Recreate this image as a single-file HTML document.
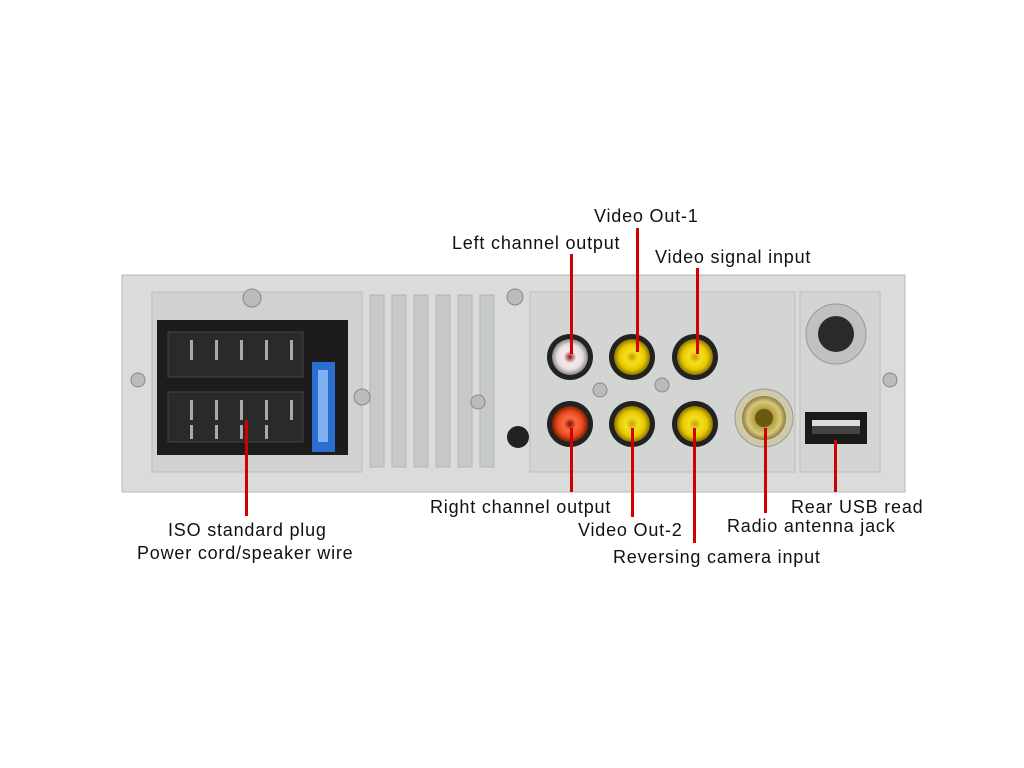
<!DOCTYPE html>
<html><head><meta charset="utf-8"><style>
body{margin:0;width:1024px;height:768px;background:#fff;position:relative;overflow:hidden;font-family:"Liberation Sans","DejaVu Sans",sans-serif}
.t{position:absolute;font-size:18px;letter-spacing:0.8px;color:#111;white-space:nowrap;line-height:20px}
.l{position:absolute;width:3px;background:#d40000}
</style></head><body>
<svg width="1024" height="768" style="position:absolute;left:0;top:0">
<defs>
<radialGradient id="y" cx="50%" cy="50%" r="50%"><stop offset="0" stop-color="#c9a000"/><stop offset="0.35" stop-color="#f3e020"/><stop offset="0.7" stop-color="#e8c800"/><stop offset="1" stop-color="#8a7600"/></radialGradient>
<radialGradient id="w" cx="50%" cy="50%" r="50%"><stop offset="0" stop-color="#8a1010"/><stop offset="0.35" stop-color="#f4eaea"/><stop offset="0.7" stop-color="#e8e0e0"/><stop offset="1" stop-color="#888"/></radialGradient>
<radialGradient id="r" cx="50%" cy="50%" r="50%"><stop offset="0" stop-color="#801000"/><stop offset="0.35" stop-color="#ff6a40"/><stop offset="0.7" stop-color="#e84a20"/><stop offset="1" stop-color="#802000"/></radialGradient>
<radialGradient id="g" cx="50%" cy="50%" r="50%"><stop offset="0" stop-color="#6a5a10"/><stop offset="0.4" stop-color="#b09a40"/><stop offset="0.75" stop-color="#d8c878"/><stop offset="1" stop-color="#8a7a40"/></radialGradient>
</defs>
<rect x="122" y="275" width="783" height="217" fill="#d9dcd9" stroke="#b5b8b5"/>
<rect x="152" y="292" width="210" height="180" fill="#cfd2cf" stroke="#bcbfbc"/>
<g fill="#c6c9c6" stroke="#b3b6b3">
<rect x="370" y="295" width="14" height="172"/><rect x="392" y="295" width="14" height="172"/><rect x="414" y="295" width="14" height="172"/><rect x="436" y="295" width="14" height="172"/><rect x="458" y="295" width="14" height="172"/><rect x="480" y="295" width="14" height="172"/>
</g>
<rect x="530" y="292" width="265" height="180" fill="#d2d5d2" stroke="#bcbfbc"/>
<rect x="800" y="292" width="80" height="180" fill="#d2d5d2" stroke="#bcbfbc"/>
<rect x="157" y="320" width="191" height="135" fill="#1c1c1c"/>
<rect x="168" y="332" width="135" height="45" fill="#2a2a2a" stroke="#444"/>
<rect x="168" y="392" width="135" height="50" fill="#2a2a2a" stroke="#444"/>
<g fill="#aaa">
<rect x="190" y="340" width="3" height="20"/><rect x="215" y="340" width="3" height="20"/><rect x="240" y="340" width="3" height="20"/><rect x="265" y="340" width="3" height="20"/><rect x="290" y="340" width="3" height="20"/>
<rect x="190" y="400" width="3" height="20"/><rect x="215" y="400" width="3" height="20"/><rect x="240" y="400" width="3" height="20"/><rect x="265" y="400" width="3" height="20"/><rect x="290" y="400" width="3" height="20"/>
<rect x="190" y="425" width="3" height="14"/><rect x="215" y="425" width="3" height="14"/><rect x="240" y="425" width="3" height="14"/><rect x="265" y="425" width="3" height="14"/>
</g>
<rect x="312" y="362" width="23" height="90" fill="#2a6fd0"/>
<rect x="318" y="370" width="10" height="72" fill="#7fb0f0"/>
<circle cx="252" cy="298" r="9" fill="#bbb" stroke="#888"/><circle cx="138" cy="380" r="7" fill="#bbb" stroke="#888"/>
<circle cx="362" cy="397" r="8" fill="#bbb" stroke="#888"/><circle cx="515" cy="297" r="8" fill="#bbb" stroke="#888"/>
<circle cx="478" cy="402" r="7" fill="#bbb" stroke="#888"/><circle cx="890" cy="380" r="7" fill="#bbb" stroke="#888"/>
<circle cx="600" cy="390" r="7" fill="#bbb" stroke="#888"/><circle cx="662" cy="385" r="7" fill="#bbb" stroke="#888"/>
<circle cx="518" cy="437" r="11" fill="#222"/>
<circle cx="570" cy="357" r="23" fill="#222"/><circle cx="570" cy="357" r="18" fill="url(#w)"/>
<circle cx="632" cy="357" r="23" fill="#222"/><circle cx="632" cy="357" r="18" fill="url(#y)"/>
<circle cx="695" cy="357" r="23" fill="#222"/><circle cx="695" cy="357" r="18" fill="url(#y)"/>
<circle cx="570" cy="424" r="23" fill="#222"/><circle cx="570" cy="424" r="18" fill="url(#r)"/>
<circle cx="632" cy="424" r="23" fill="#222"/><circle cx="632" cy="424" r="18" fill="url(#y)"/>
<circle cx="695" cy="424" r="23" fill="#222"/><circle cx="695" cy="424" r="18" fill="url(#y)"/>
<circle cx="764" cy="418" r="29" fill="#cfc9a8" stroke="#999"/><circle cx="764" cy="418" r="22" fill="url(#g)"/><circle cx="764" cy="418" r="9" fill="#6a5a10"/>
<circle cx="836" cy="334" r="30" fill="#bfc2bf" stroke="#999"/><circle cx="836" cy="334" r="18" fill="#2a2a2a"/>
<rect x="805" y="412" width="62" height="32" fill="#1a1a1a"/><rect x="812" y="420" width="48" height="12" fill="#ddd"/><rect x="812" y="426" width="48" height="8" fill="#444"/>
</svg>
<div class="l" style="left:636px;top:228px;height:124px"></div>
<div class="l" style="left:570px;top:254px;height:100px"></div>
<div class="l" style="left:696px;top:268px;height:86px"></div>
<div class="l" style="left:245px;top:420px;height:96px"></div>
<div class="l" style="left:570px;top:428px;height:64px"></div>
<div class="l" style="left:631px;top:428px;height:89px"></div>
<div class="l" style="left:693px;top:428px;height:115px"></div>
<div class="l" style="left:764px;top:428px;height:85px"></div>
<div class="l" style="left:834px;top:440px;height:52px"></div>
<div class="t" style="left:594px;top:206px">Video Out-1</div>
<div class="t" style="left:452px;top:233px">Left channel output</div>
<div class="t" style="left:655px;top:247px">Video signal input</div>
<div class="t" style="left:168px;top:520px">ISO standard plug</div>
<div class="t" style="left:137px;top:543px">Power cord/speaker wire</div>
<div class="t" style="left:430px;top:497px">Right channel output</div>
<div class="t" style="left:578px;top:520px">Video Out-2</div>
<div class="t" style="left:613px;top:547px">Reversing camera input</div>
<div class="t" style="left:727px;top:516px">Radio antenna jack</div>
<div class="t" style="left:791px;top:497px">Rear USB read</div>
</body></html>
